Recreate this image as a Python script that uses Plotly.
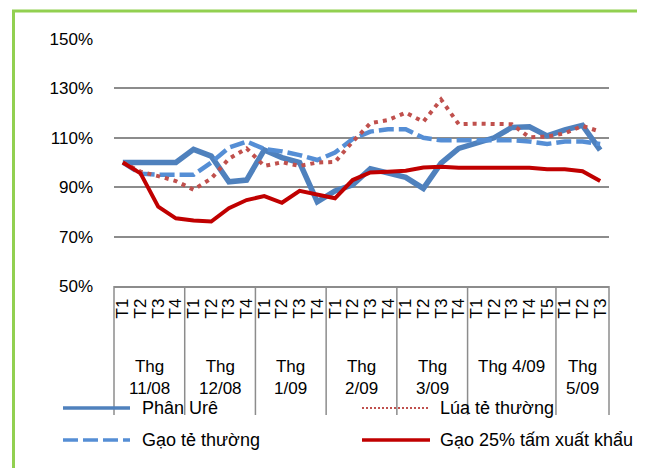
import plotly.graph_objects as go

# ---------------- data ----------------
weeks = ["T1", "T2", "T3", "T4",
         "T1", "T2", "T3", "T4",
         "T1", "T2", "T3", "T4",
         "T1", "T2", "T3", "T4",
         "T1", "T2", "T3", "T4",
         "T1", "T2", "T3", "T4", "T5",
         "T1", "T2", "T3"]
month_labels = ["Thg<br>11/08", "Thg<br>12/08", "Thg<br>1/09", "Thg<br>2/09",
                "Thg<br>3/09", "Thg 4/09", "Thg<br>5/09"]
weeks_per_month = [4, 4, 4, 4, 4, 5, 3]

y_ticks = [50, 70, 90, 110, 130, 150]
y_tick_labels = ["50%", "70%", "90%", "110%", "130%", "150%"]

phan_ure = [100, 100, 100, 100, 105.3, 102.6, 92.2, 92.9, 105.1, 102, 100, 84.1,
            88.5, 91, 97.5, 96, 94, 89.5, 99.7, 105.7, 108, 110, 114.2, 114.5,
            110.8, 113.2, 115, 105]
lua_te = [100, 96.3, 94.5, 92.5, 89, 93.5, 101.5, 105.7, 98.6, 100.1, 98.6, 100,
          100.2, 108.4, 115.9, 117.2, 120.2, 116.5, 125.5, 115.5, 115.7, 115.5,
          115.5, 110.2, 110.5, 111.8, 114.8, 112.5]
gao_te = [100, 95.5, 95, 95, 95, 100, 106, 108.5, 105.5, 104.5, 103, 101,
          104, 109.5, 112.5, 113.5, 113.5, 110, 109, 109, 109, 109, 109, 108.5,
          107.5, 108.5, 108.5, 107.5]
gao_25 = [100, 95.6, 82.1, 77.4, 76.5, 76.1, 81.5, 84.8, 86.4, 83.7, 88.5, 87.2,
          85.5, 92.9, 96, 96.3, 96.7, 98, 98.3, 97.9, 97.9, 97.9, 97.9, 97.9,
          97.3, 97.3, 96.5, 92.5]

series_names = ["Phân Urê", "Lúa tẻ thường", "Gạo tẻ thường", "Gạo 25% tấm xuất khẩu"]
series_values = [phan_ure, lua_te, gao_te, gao_25]
series_styles = [
    dict(color="#4F81BD", width=5.5, dash="solid"),
    dict(color="#C0504D", width=4, dash="4px,5px"),
    dict(color="#558ED5", width=4.5, dash="15px,5px"),
    dict(color="#C00000", width=4, dash="solid"),
]

FONT = "Liberation Sans, Arial, sans-serif"
n = len(weeks)
x = list(range(n))

fig = go.Figure()
# draw order: Phân Urê, Gạo tẻ, Lúa, Gạo 25%
for k in [0, 2, 1, 3]:
    fig.add_trace(go.Scatter(x=x, y=series_values[k], mode="lines",
                             name=series_names[k], line=series_styles[k],
                             showlegend=False, hoverinfo="skip"))

# page body margin offset (browser default 8px)
OFF = 8
# plot-area geometry (screen pixels)
L, R, T, B = 114, 609, 39, 286
W, H = 649 - OFF, 468 - OFF
pw, ph = R - L, B - T


def px2x(px):
    return (px - L) / pw


def px2y(py):
    return (B - py) / ph


shapes = []
annotations = []

# month dividers & labels
grid_gray = "#8C8C8C"
start = 0
bounds = [0]
for c in weeks_per_month:
    start += c
    bounds.append(start)
for b in bounds:
    xp = b / n
    shapes.append(dict(type="line", xref="paper", yref="paper",
                       x0=xp, x1=xp, y0=0, y1=px2y(415),
                       line=dict(color=grid_gray, width=1.5)))
for i, lab in enumerate(month_labels):
    xc = (bounds[i] + bounds[i + 1]) / 2 / n
    two = "<br>" in lab
    annotations.append(dict(xref="paper", yref="paper", x=xc,
                            y=px2y(377 if two else 366),
                            text=lab, showarrow=False, xanchor="center",
                            yanchor="middle",
                            font=dict(family=FONT, size=17, color="black")))

# legend (2 x 2)
leg = [
    (0, 63, 130, 408, 140),
    (1, 362, 428, 408, 438),
    (2, 63, 130, 440, 140),
    (3, 362, 430, 440, 438),
]
for k, x0, x1, yy, tx in leg:
    st = series_styles[k]
    lw = min(st["width"], 3.5)
    shapes.append(dict(type="line", xref="paper", yref="paper",
                       x0=px2x(x0), x1=px2x(x1), y0=px2y(yy), y1=px2y(yy),
                       line=dict(color=st["color"], width=lw if k != 1 else 2,
                                 dash=st["dash"] if k != 1 else "2px,2px")))
    annotations.append(dict(xref="paper", yref="paper", x=px2x(tx), y=px2y(yy),
                            text=series_names[k], showarrow=False,
                            xanchor="left", yanchor="middle",
                            font=dict(family=FONT, size=18, color="black")))

# green frame (top and left)
green = "#92D050"
shapes.append(dict(type="line", xref="paper", yref="paper",
                   x0=px2x(12), x1=px2x(637), y0=px2y(11), y1=px2y(11),
                   line=dict(color=green, width=3)))
shapes.append(dict(type="line", xref="paper", yref="paper",
                   x0=px2x(13.5), x1=px2x(13.5), y0=px2y(10), y1=px2y(470),
                   line=dict(color=green, width=3)))

fig.update_layout(
    width=W, height=H,
    margin=dict(l=L - OFF, r=649 - R, t=T - OFF, b=468 - B, pad=0),
    paper_bgcolor="white", plot_bgcolor="white",
    showlegend=False,
    shapes=shapes, annotations=annotations,
    font=dict(family=FONT, size=17, color="black"),
    xaxis=dict(range=[-0.5, n - 0.5], tickmode="array", tickvals=x,
               ticktext=weeks, tickangle=-90, showgrid=False, zeroline=False,
               showline=True, linecolor=grid_gray, linewidth=1.5,
               ticks="", ticklabelstandoff=4,
               tickfont=dict(family=FONT, size=17, color="black"),
               fixedrange=True),
    yaxis=dict(range=[50, 150], tickmode="array", tickvals=y_ticks,
               ticktext=y_tick_labels, showgrid=True, gridcolor=grid_gray,
               gridwidth=1.5, zeroline=False, showline=False, ticks="",
               ticklabelstandoff=20,
               tickfont=dict(family=FONT, size=17, color="black"),
               fixedrange=True),
)

fig.write_html("out.html")
